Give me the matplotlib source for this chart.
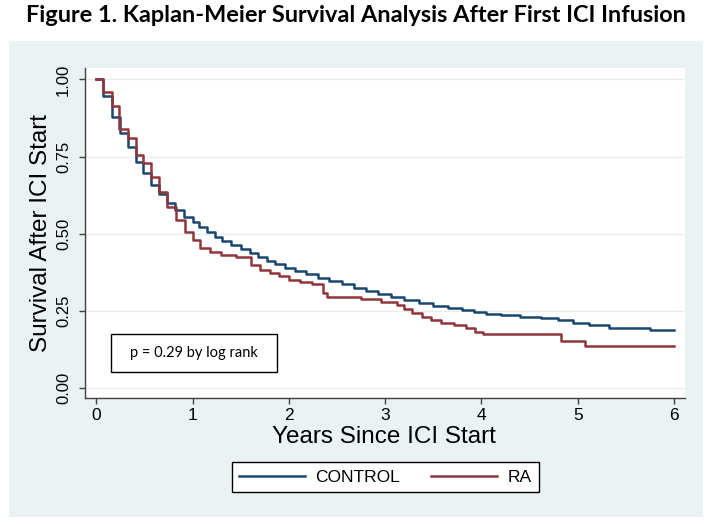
"""Kaplan-Meier survival after first ICI infusion, CONTROL vs RA"""

import matplotlib
matplotlib.use('Agg')
import matplotlib.pyplot as plt
from matplotlib.patches import Rectangle

# Kaplan-Meier steps (time in years, survival after step)
control_t = [0.00, 0.07, 0.16, 0.25, 0.33, 0.41, 0.49, 0.57, 0.65, 0.73,
             0.82, 0.91, 1.00, 1.07, 1.15, 1.23, 1.31, 1.40, 1.50, 1.60,
             1.68, 1.77, 1.86, 1.96, 2.06, 2.18, 2.30, 2.42, 2.55, 2.68,
             2.80, 2.93, 3.06, 3.20, 3.35, 3.50, 3.65, 3.80, 3.92, 4.05,
             4.20, 4.40, 4.62, 4.80, 4.95, 5.12, 5.32, 5.75, 6.00]
control_s = [1.000, 0.946, 0.877, 0.826, 0.782, 0.733, 0.697, 0.658, 0.629, 0.599,
             0.577, 0.555, 0.539, 0.522, 0.506, 0.491, 0.477, 0.464, 0.452, 0.438,
             0.424, 0.412, 0.401, 0.390, 0.379, 0.369, 0.357, 0.347, 0.336, 0.325,
             0.314, 0.304, 0.296, 0.287, 0.277, 0.266, 0.260, 0.254, 0.248, 0.241,
             0.236, 0.231, 0.227, 0.222, 0.212, 0.203, 0.195, 0.189, 0.189]

ra_t = [0.00, 0.07, 0.16, 0.24, 0.33, 0.41, 0.49, 0.57, 0.65, 0.73,
        0.83, 0.92, 1.00, 1.08, 1.18, 1.30, 1.45, 1.61, 1.70, 1.80,
        1.90, 2.00, 2.12, 2.24, 2.35, 2.40, 2.75, 2.96, 3.12, 3.20,
        3.28, 3.38, 3.48, 3.58, 3.72, 3.84, 3.93, 4.02, 4.83, 5.08, 6.00]
ra_s = [1.000, 0.958, 0.915, 0.841, 0.809, 0.755, 0.728, 0.683, 0.636, 0.588,
        0.545, 0.507, 0.480, 0.455, 0.442, 0.432, 0.424, 0.399, 0.384, 0.373,
        0.362, 0.351, 0.343, 0.336, 0.307, 0.296, 0.288, 0.280, 0.268, 0.255,
        0.242, 0.230, 0.222, 0.212, 0.205, 0.194, 0.183, 0.174, 0.154, 0.135, 0.135]

x_ticks = [0, 1, 2, 3, 4, 5, 6]
y_ticks = [0.00, 0.25, 0.50, 0.75, 1.00]

title = 'Figure 1. Kaplan-Meier Survival Analysis After First ICI Infusion'
p_text = 'p = 0.29 by log rank'

W, H = 718, 525
BLUE = '#1a476f'
RED = '#90353b'
PANEL = '#eaf2f3'
AXC = '#404040'
SANS = ['Liberation Sans', 'DejaVu Sans']

plt.rcParams['font.family'] = SANS

fig = plt.figure(figsize=(W / 100, H / 100), dpi=100)
fig.patch.set_facecolor('white')

# stata-like grey background panel
fig.patches.append(Rectangle((9 / W, 1 - 517 / H), 694 / W, 476 / H,
                             transform=fig.transFigure, facecolor=PANEL,
                             edgecolor='none', zorder=-5))

ax = fig.add_axes([85 / W, 1 - 398 / H, 600 / W, 330 / H])
ax.set_facecolor('white')

ax.step(control_t, control_s, where='post', color=BLUE, lw=1.8, label='CONTROL', zorder=3)
ax.step(ra_t, ra_s, where='post', color=RED, lw=1.8, label='RA', zorder=3)

ax.set_xlim(-0.117, 6.114)
ax.set_ylim(-0.032, 1.037)
ax.set_xticks(x_ticks)
ax.set_xticklabels([str(v) for v in x_ticks], fontsize=12.5)
ax.set_yticks(y_ticks)
ax.set_yticklabels(['{:.2f}'.format(v) for v in y_ticks], fontsize=12,
                   rotation=90, va='center')

ax.grid(axis='y', color='#e8eef0', lw=1.0, zorder=1)
for side in ['top', 'right']:
    ax.spines[side].set_visible(False)
for side in ['left', 'bottom']:
    ax.spines[side].set_color(AXC)
    ax.spines[side].set_linewidth(1.0)
ax.tick_params(axis='both', direction='out', length=4, width=1.0, color=AXC,
               labelcolor='black')
ax.tick_params(axis='x', pad=3)
ax.tick_params(axis='y', pad=6)

fig.text(41 / W, 1 - 233 / H, 'Survival After ICI Start', rotation=90,
         ha='center', va='center', fontsize=17.5)
fig.text(384 / W, 1 - 437 / H, 'Years Since ICI Start',
         ha='center', va='center', fontsize=17.5)

# p-value box
ax.add_patch(Rectangle((26 / 600, 26 / 330), 166 / 600, 38 / 330,
                       transform=ax.transAxes, facecolor='white',
                       edgecolor='black', lw=1.0, zorder=4))
ax.text(109 / 600, 45 / 330, p_text, transform=ax.transAxes, ha='center',
        va='center', fontsize=10.5, family=['Lato', 'DejaVu Sans'], zorder=5)

leg = ax.legend(loc='center', bbox_to_anchor=(385.5 / W, 1 - 477 / H),
                bbox_transform=fig.transFigure, ncol=2, fontsize=12.5,
                frameon=True, fancybox=False, borderpad=0.4,
                handlelength=3.8, handletextpad=0.6, columnspacing=1.8)
leg.get_frame().set_edgecolor('black')
leg.get_frame().set_linewidth(1.0)
leg.get_frame().set_facecolor('white')
leg.get_frame().set_alpha(1.0)
for line in leg.get_lines():
    line.set_linewidth(1.8)

t = fig.text(356 / W, 1 - 15 / H, title, ha='center', va='center',
             fontsize=15, fontweight='bold', family=['Lato', 'DejaVu Sans'])
# fit the title to the reference width
fig.canvas.draw()
w = t.get_window_extent().width
t.set_fontsize(15 * 662 / w)

fig.savefig('out.png', dpi=100)
